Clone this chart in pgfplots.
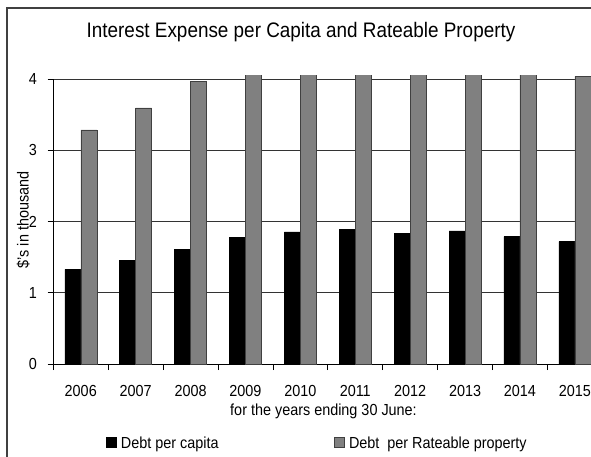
\documentclass[border=0pt]{standalone}
\usepackage{fontspec}
\setmainfont{Liberation Sans}[FakeStretch=0.9]
\usepackage{pgfplots}
\pgfplotsset{compat=1.18}
\definecolor{barGray}{RGB}{128,128,128}
\definecolor{frameGray}{RGB}{64,64,64}
\begin{document}
\begin{tikzpicture}[x=1pt,y=1pt]
\useasboundingbox (0,0) rectangle (591,456);
\clip (0,0) rectangle (591,456);
\draw[frameGray, line width=2pt] (6.7,-20) -- (6.7,447.7) -- (640,447.7);
\node[anchor=base, font=\fontsize{21}{25}\selectfont, inner sep=0pt] at (301,418.3) {Interest Expense per Capita and Rateable Property};
\node[rotate=90, font=\fontsize{16}{19}\selectfont, inner sep=0pt] at (23.3,236) {\$'s in thousand};
\node[anchor=base, font=\fontsize{16}{19}\selectfont, inner sep=0pt] at (323.5,40.3) {for the years ending 30 June:};
\begin{axis}[
  at={(53.3pt,92pt)}, anchor=south west, scale only axis,
  width=549pt, height=288.26pt,
  xmin=-0.5, xmax=9.5, ymin=0, ymax=4.05,
  ybar=0pt, bar width=16pt,
  axis x line*=bottom, axis y line*=left,
  axis line style={black, line width=0.8pt},
  y axis line style={shorten >=3.56pt},
  ytick={0,1,2,3,4},
  ymajorgrids, major grid style={black!80, line width=0.8pt},
  xtick={0,...,9},
  xticklabels={2006,2007,2008,2009,2010,2011,2012,2013,2014,2015},
  major x tick style={draw=none},
  minor xtick={-0.5,0.5,...,9.5},
  tick align=outside, major tick length=5.6pt, minor tick length=6pt,
  tick style={black, line width=0.8pt},
  /pgf/number format/assume math mode=true,
  ticklabel style={font=\fontsize{16}{19}\selectfont},
  yticklabel style={anchor=east, inner sep=0pt, xshift=-10.7pt},
  xticklabel style={anchor=base, inner sep=0pt, yshift=-27pt},
  legend columns=2,
  legend image code/.code={\draw[#1] (0pt,-3.55pt) rectangle (10pt,6.45pt);},
  legend style={at={(axis description cs:0.09599,-0.2947)}, anchor=south west,
    draw=none, fill=none, inner sep=0pt, outer sep=0pt,
    nodes={inner sep=0pt, text depth=0pt, font=\fontsize{16}{19}\selectfont},
    /tikz/every odd column/.style={column sep=4.5pt},
    /tikz/every even column/.style={column sep=0pt}},
]
\addplot[fill=black, draw=black] coordinates {
  (0,1.33) (1,1.46) (2,1.615) (3,1.775) (4,1.855) (5,1.89) (6,1.835) (7,1.87) (8,1.79) (9,1.72)};
\addlegendentry{\makebox[213.2pt][l]{Debt per capita}}
\addplot[fill=barGray, draw=black!75] coordinates {
  (0,3.29) (1,3.60) (2,3.97) (3,4.3) (4,4.3) (5,4.3) (6,4.3) (7,4.3) (8,4.3) (9,4.04)};
\addlegendentry{Debt~ per Rateable property}
\end{axis}
\end{tikzpicture}
\end{document}
